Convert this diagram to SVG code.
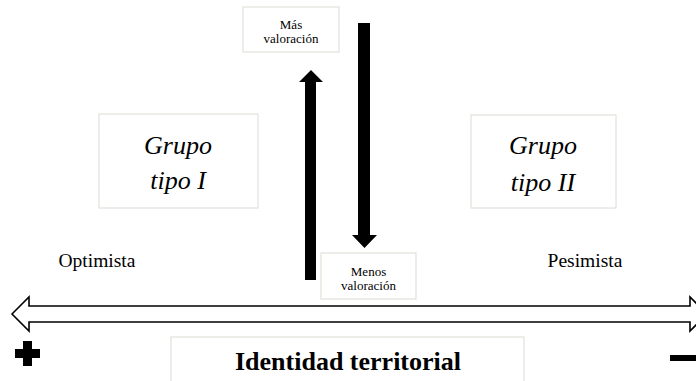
<svg xmlns="http://www.w3.org/2000/svg" width="696" height="381" viewBox="0 0 696 381">
<style>
.box{fill:#fff;stroke:#e2e2da;stroke-width:1.2}
text{font-family:'Liberation Serif','Times New Roman',Tinos,'DejaVu Serif',serif;fill:#000;text-anchor:middle}
.it{font-style:italic;font-size:26px}
.sm{font-size:13px}
.md{font-size:19.5px}
.bd{font-weight:bold;font-size:26px}
</style>
<rect width="696" height="381" fill="#fff"/>
<g id="connectors">
<polygon points="305,280 316,280 316,82 323,82 311,70 299,82 305,82" fill="#000"/>
<polygon points="358,23 370,23 370,235 377,235 364.5,248 352,235 358,235" fill="#000"/>
<polygon points="12,314 29,297 29,306 690,306 690,297 707,314 690,331 690,322 29,322 29,331" fill="#fff" stroke="#000" stroke-width="1.6"/>
</g>
<g id="mas">
<rect class="box" x="243" y="7" width="96" height="45"/>
<text class="sm" x="291" y="29" font-family="Liberation Serif, serif">Más</text>
<text class="sm" x="291" y="43" font-family="Liberation Serif, serif">valoración</text>
</g>
<g id="menos">
<rect class="box" x="321" y="253" width="95" height="46"/>
<text class="sm" x="368.5" y="276" font-family="Liberation Serif, serif">Menos</text>
<text class="sm" x="368.5" y="290" font-family="Liberation Serif, serif">valoración</text>
</g>
<g id="grupo1">
<rect class="box" x="99" y="114" width="159" height="94"/>
<text class="it" x="178" y="154" font-family="Liberation Serif, serif">Grupo</text>
<text class="it" x="178" y="189" font-family="Liberation Serif, serif">tipo I</text>
</g>
<g id="grupo2">
<rect class="box" x="471" y="115" width="145" height="93"/>
<text class="it" x="543" y="154" font-family="Liberation Serif, serif">Grupo</text>
<text class="it" x="543" y="191" font-family="Liberation Serif, serif">tipo II</text>
</g>
<g id="optimista">
<text class="md" x="97" y="267" font-family="Liberation Serif, serif">Optimista</text>
</g>
<g id="pesimista">
<text class="md" x="585" y="267" font-family="Liberation Serif, serif">Pesimista</text>
</g>
<g id="identidad">
<rect class="box" x="171" y="337" width="353" height="50"/>
<text class="bd" x="348" y="370" font-family="Liberation Serif, serif">Identidad territorial</text>
</g>
<g id="plus">
<path d="M23,341 h9 v8 h8 v9 h-8 v8 h-9 v-8 h-8 v-9 h8 z" fill="#000"/>
</g>
<g id="minus">
<rect x="670" y="355" width="26" height="6" fill="#000"/>
</g>
</svg>
